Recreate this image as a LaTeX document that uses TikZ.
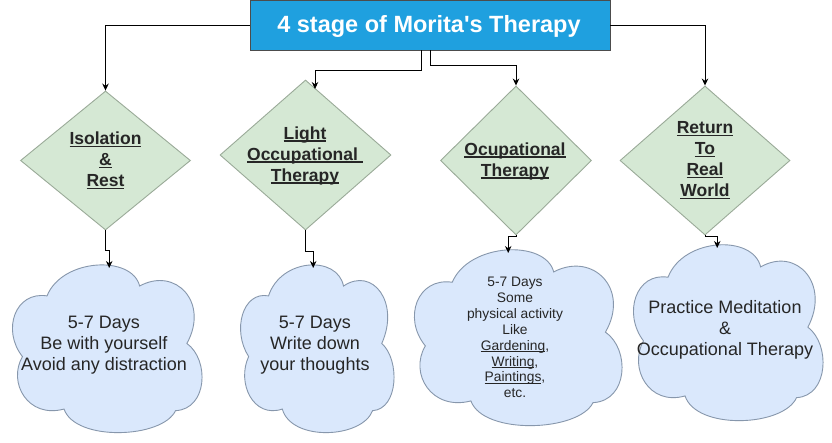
\documentclass[tikz,border=0pt]{standalone}
\usepackage{fontspec}
\setmainfont{Liberation Sans}
\newfontfamily\titlefont{Liberation Sans}[Ligatures=TeXOff]
\usetikzlibrary{arrows.meta,shapes.geometric}
\definecolor{titleblue}{HTML}{1FA0DF}
\definecolor{diafill}{HTML}{D5E8D4}
\definecolor{diadraw}{HTML}{9AAA98}
\definecolor{cloudfill}{HTML}{DAE8FC}
\definecolor{clouddraw}{HTML}{8797AC}
\newcommand\ulx[3]{\setbox0\hbox{#1}\rlap{\rule[-#2]{\wd0}{#3}}\box0}
\newcommand\ulb[1]{\ulx{#1}{2.6pt}{1.4pt}}
\newcommand\uls[1]{\ulx{#1}{2.2pt}{0.9pt}}
\newcommand\mycloud[5]{%
  \node[cloudbox, minimum width=#4pt, minimum height=#5pt, anchor=north west] (#1) at (#2,#3) {};
  \begin{scope}[shift={(#2,#3)}]
  \begin{scope}[x=#4pt,y=-#5pt]
  \draw[cloudstyle] (0.18,0.17) .. controls (0.26,-0.06) and (0.63,-0.08) .. (0.67,0.11)
    .. controls (0.86,-0.01) and (1.04,0.21) .. (0.92,0.46)
    .. controls (1.04,0.56) and (1.03,0.86) .. (0.86,0.87)
    .. controls (0.79,1.04) and (0.33,1.06) .. (0.27,0.86)
    .. controls (0.08,0.92) and (-0.03,0.7) .. (0.05,0.54)
    .. controls (-0.06,0.38) and (0.01,0.14) .. (0.18,0.17) -- cycle;
  \end{scope}
  \end{scope}}
\begin{document}
\begin{tikzpicture}[x=1pt,y=-1pt,
  arr/.style={draw=black, line width=0.9pt, -{Stealth[length=7pt,width=6.5pt]}},
  titlebox/.style={rectangle, fill=titleblue, draw=gray!60!black, line width=0.8pt, minimum width=360pt, minimum height=50pt, inner sep=0pt},
  diashape/.style={diamond, fill=diafill, draw=diadraw, line width=0.9pt, inner sep=0pt},
  cloudbox/.style={rectangle, inner sep=0pt, draw=none},
  cloudstyle/.style={fill=cloudfill, draw=clouddraw, line width=0.9pt},
  dtext/.style={align=center, font=\fontsize{17.5}{21}\selectfont\bfseries, text=black!85, inner sep=0pt},
  ctext/.style={align=center, font=\fontsize{18}{21}\selectfont, text=black!85, inner sep=0pt},
  stext/.style={align=center, font=\fontsize{13.8}{15.9}\selectfont, text=black!85, inner sep=0pt}]
\useasboundingbox[fill=white] (0,0) rectangle (832,442);

% title
\node[titlebox] (title) at (430,25) {};
\node[text=white, font=\titlefont\fontsize{23.5}{28}\selectfont\bfseries, inner sep=0pt] (titletext) at (429,26) {4 stage of Morita's Therapy};

% diamonds
\node[diashape, minimum width=170pt, minimum height=139pt] (d1) at (105.5,160.5) {};
\node[diashape, minimum width=171pt, minimum height=150pt] (d2) at (305.5,155) {};
\node[diashape, minimum width=151pt, minimum height=149pt] (d3) at (516,160.5) {};
\node[diashape, minimum width=170pt, minimum height=149pt] (d4) at (705,160.5) {};

\node[dtext] (d1t) at (105.5,160.5) {\ulb{Isolation}\\\ulb{\&}\\\ulb{Rest}};
\node[dtext] (d2t) at (305,155.5) {\ulb{Light}\\\ulb{Occupational\ }\\\ulb{Therapy}};
\node[dtext] (d3t) at (515,161) {\ulb{Ocupational}\\\ulb{Therapy}};
\node[dtext] (d4t) at (705,160.5) {\ulb{Return}\\\ulb{To}\\\ulb{Real}\\\ulb{World}};

% clouds
\mycloud{c1}{13}{268}{189}{164}
\mycloud{c2}{241}{268}{153}{164}
\mycloud{c3}{415}{253}{207}{172}
\mycloud{c4}{634}{248}{189}{172}

\node[ctext] (c1t) at (104,345.5) {5-7 Days\\Be with yourself\\Avoid any distraction};
\node[ctext] (c2t) at (315,345.5) {5-7 Days\\Write down\\your thoughts};
\node[stext] (c3t) at (515,337.5) {5-7 Days\\Some\\physical activity\\Like\\\uls{Gardening},\\\uls{Writing},\\\uls{Paintings},\\etc.};
\node[ctext] (c4t) at (725,330) {Practice Meditation\\\&\\Occupational Therapy};

% connectors from title
\coordinate (d2in) at (315,89);
\draw[arr] (title.west) -| (d1.north);
\draw[arr] (title.east) -| (d4.north);
\draw[arr] ([xshift=-9pt]title.south) -- ++(0,20) -| (d2in);
\draw[arr] (title.south) -- ++(0,15) -| (d3.north);

% connectors to clouds
\draw[arr] (d1.south) -- ++(0,20) -| ([xshift=1.5pt]c1.north);
\draw[arr] (d2.south) -- ++(0,21) -| ([xshift=-4.5pt]c2.north);
\draw[arr] (d3.south) -- ++(0,1) -| ([xshift=-10.5pt]c3.north);
\draw[arr] (d4.south) -- ++(0,1) -| ([xshift=-11.5pt]c4.north);
\end{tikzpicture}
\end{document}
